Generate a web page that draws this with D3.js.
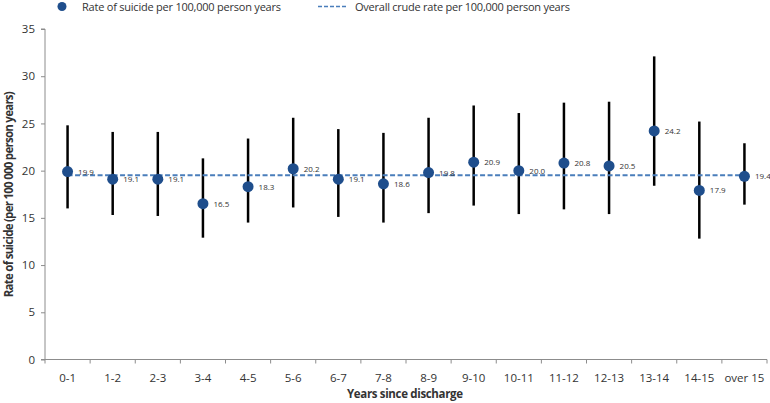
<!DOCTYPE html>
<html>
<head>
<meta charset="utf-8">
<style>
body { margin: 0; background: #fff; }
svg text { font-family: "Open Sans", "Noto Sans", sans-serif; fill: #333; }
</style>
</head>
<body>
<svg width="770" height="403"></svg>
<script src="https://cdn.jsdelivr.net/npm/d3@7/dist/d3.min.js"></script>
<script>
// data
var periods = ["0-1","1-2","2-3","3-4","4-5","5-6","6-7","7-8","8-9","9-10","10-11","11-12","12-13","13-14","14-15","over 15"];
var rates = [19.9, 19.1, 19.1, 16.5, 18.3, 20.2, 19.1, 18.6, 19.8, 20.9, 20.0, 20.8, 20.5, 24.2, 17.9, 19.4];
var lower = [16.0, 15.3, 15.2, 12.9, 14.5, 16.1, 15.1, 14.5, 15.5, 16.3, 15.4, 15.9, 15.4, 18.4, 12.8, 16.4];
var upper = [24.8, 24.1, 24.1, 21.3, 23.4, 25.6, 24.4, 24.0, 25.6, 26.9, 26.1, 27.2, 27.3, 32.1, 25.2, 22.9];
var overallRate = 19.5;
var yTicks = [0, 5, 10, 15, 20, 25, 30, 35];

var svg = d3.select("svg"),
    margin = {top: 29, right: 3, bottom: 43.5, left: 45},
    width = +svg.attr("width"),
    height = +svg.attr("height");

var x = d3.scaleBand()
    .domain(periods)
    .range([margin.left, width - margin.right]);

var y = d3.scaleLinear()
    .domain([0, 35])
    .range([height - margin.bottom, margin.top]);

var cx = function(d) { return x(d) + x.bandwidth() / 2; };

// axes
var yAxis = svg.append("g")
    .attr("transform", "translate(" + margin.left + ",0)")
    .call(d3.axisLeft(y).tickValues(yTicks).tickSize(4).tickPadding(6));
yAxis.selectAll("text").style("font-size", "11.5px").attr("fill", "#333");

var xAxis = svg.append("g")
    .attr("transform", "translate(0," + (height - margin.bottom) + ")")
    .call(d3.axisBottom(x).tickSize(0).tickPadding(14));
xAxis.selectAll("text").style("font-size", "11.5px").attr("fill", "#333");

// band boundary ticks on x axis
xAxis.selectAll("line.bound")
  .data(periods.concat(["end"]))
  .enter().append("line")
    .attr("class", "bound")
    .attr("x1", function(d, i) { return i < periods.length ? x(d) : x.range()[1]; })
    .attr("x2", function(d, i) { return i < periods.length ? x(d) : x.range()[1]; })
    .attr("y1", 0).attr("y2", 4);

svg.selectAll(".domain, .tick line, line.bound").attr("stroke", "#8c8c8c");
xAxis.select(".domain").attr("d", "M" + x.range()[0] + ",0H" + x.range()[1]);
yAxis.select(".domain").attr("d", "M-4," + y(35) + "H0V" + y(0) + "H-4");

// axis titles
svg.append("text")
    .attr("x", 405).attr("y", 398)
    .attr("text-anchor", "middle")
    .style("font-size", "11.5px").style("font-weight", "bold")
    .attr("textLength", 116)
    .text("Years since discharge");

svg.append("text")
    .attr("transform", "translate(13," + y(17.5) + ") rotate(-90)")
    .attr("text-anchor", "middle")
    .style("font-size", "11.5px").style("font-weight", "bold")
    .attr("textLength", 206)
    .text("Rate of suicide (per 100 000 person years)");

// error bars
svg.append("g")
  .selectAll("line")
  .data(periods)
  .enter().append("line")
    .attr("x1", cx).attr("x2", cx)
    .attr("y1", function(d, i) { return y(lower[i]); })
    .attr("y2", function(d, i) { return y(upper[i]); })
    .attr("stroke", "#000")
    .attr("stroke-width", 2.5);

// overall crude rate
svg.append("line")
    .attr("x1", cx(periods[0]))
    .attr("x2", cx(periods[periods.length - 1]))
    .attr("y1", y(overallRate)).attr("y2", y(overallRate))
    .attr("stroke", "#4a7ebb")
    .attr("stroke-width", 2)
    .attr("stroke-dasharray", "5,2.5");

// points
svg.append("g")
  .selectAll("circle")
  .data(periods)
  .enter().append("circle")
    .attr("cx", cx)
    .attr("cy", function(d, i) { return y(rates[i]); })
    .attr("r", 5.5)
    .attr("fill", "#1f4e8c");

// data labels
svg.append("g")
  .selectAll("text")
  .data(periods)
  .enter().append("text")
    .attr("x", function(d) { return cx(d) + 10.5; })
    .attr("y", function(d, i) { return y(rates[i]) + 3; })
    .style("font-size", "8px")
    .text(function(d, i) { return rates[i].toFixed(1); });

// legend
var legend = svg.append("g");
legend.append("circle")
    .attr("cx", 62).attr("cy", 6.5).attr("r", 4.5)
    .attr("fill", "#1f4e8c");
legend.append("text")
    .attr("x", 82).attr("y", 11)
    .style("font-size", "11px")
    .attr("textLength", 199)
    .text("Rate of suicide per 100,000 person years");
legend.append("line")
    .attr("x1", 318).attr("x2", 348)
    .attr("y1", 6.5).attr("y2", 6.5)
    .attr("stroke", "#4a7ebb")
    .attr("stroke-width", 1.5)
    .attr("stroke-dasharray", "4,2");
legend.append("text")
    .attr("x", 355).attr("y", 11)
    .style("font-size", "11px")
    .attr("textLength", 215)
    .text("Overall crude rate per 100,000 person years");
</script>
</body>
</html>
